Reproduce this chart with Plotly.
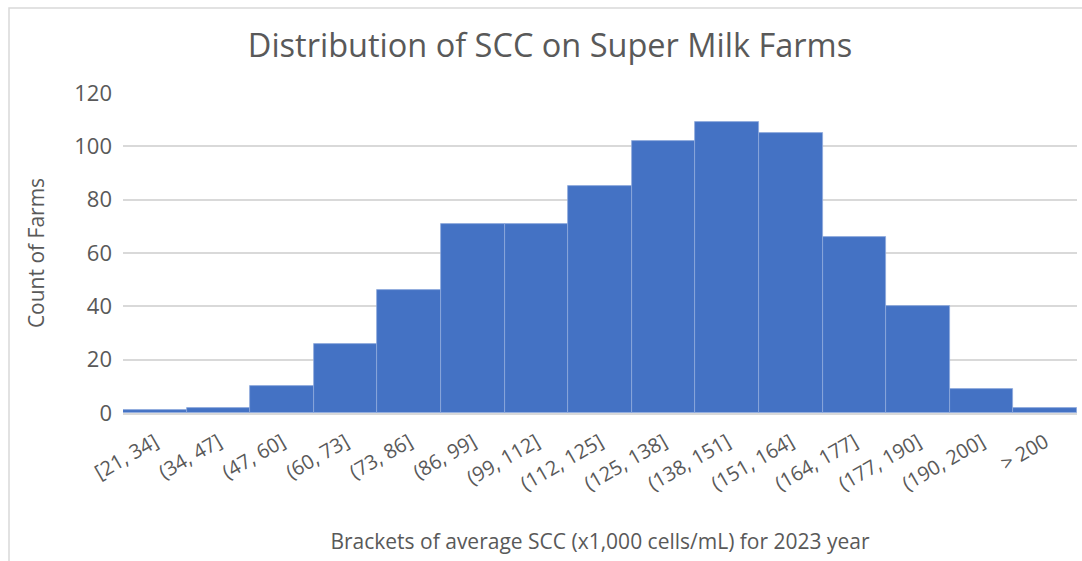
import plotly.graph_objects as go

categories = ["[21, 34]", "(34, 47]", "(47, 60]", "(60, 73]", "(73, 86]", "(86, 99]",
              "(99, 112]", "(112, 125]", "(125, 138]", "(138, 151]", "(151, 164]",
              "(164, 177]", "(177, 190]", "(190, 200]", "> 200"]
counts = [1, 2, 10, 26, 46, 71, 71, 85, 102, 109, 105, 66, 40, 9, 2]
y_ticks = [0, 20, 40, 60, 80, 100, 120]

W, H = 1082, 561
L, R, T, B = 123, 5, 93, 148
pw, ph = W - L - R, H - T - B

FONT = "Open Sans"
GREY = "#595959"

fig = go.Figure(go.Bar(
    x=categories, y=counts,
    marker=dict(color="#4472C4", line=dict(color="#8FAADC", width=0.8)),
))

fig.update_layout(
    width=W, height=H,
    margin=dict(l=L, r=R, t=T, b=B),
    paper_bgcolor="white", plot_bgcolor="white",
    bargap=0,
    showlegend=False,
    font=dict(family=FONT, color=GREY),
    title=dict(text="Distribution of SCC on Super Milk Farms",
               x=(550 - L) / pw, xref="paper", xanchor="center",
               y=1 - 46 / H, yref="container", yanchor="middle",
               font=dict(size=32.5, color=GREY, family=FONT)),
    xaxis=dict(tickangle=-30, tickfont=dict(size=20, color=GREY), automargin=False,
               showgrid=False, showline=True, linecolor="#d9d9d9", linewidth=1.5,
               ticks="", ticklabelstandoff=8,
               title=dict(text="Brackets of average SCC (x1,000 cells/mL) for 2023 year",
                          font=dict(size=21, color=GREY), standoff=39)),
    yaxis=dict(range=[0, 120], tickvals=y_ticks, tickfont=dict(size=22, color=GREY),
               automargin=False,
               showgrid=True, gridcolor="#d9d9d9", gridwidth=1.5, zeroline=False,
               ticks="", ticklabelstandoff=10,
               title=dict(text="Count of Farms", font=dict(size=21, color=GREY), standoff=23)),
)

# outer chart border (only top and left edges fall inside the picture)
fig.add_shape(type="rect", xref="paper", yref="paper",
              x0=(9 - L) / pw, x1=(W + 20 - L) / pw,
              y0=(H - B - (H + 20)) / ph, y1=(H - B - 8) / ph,
              line=dict(color="#d9d9d9", width=1.5), fillcolor="rgba(0,0,0,0)", layer="below")

fig.write_html("out.html", config={"displayModeBar": False},
               post_script="document.body.style.margin='0';")
